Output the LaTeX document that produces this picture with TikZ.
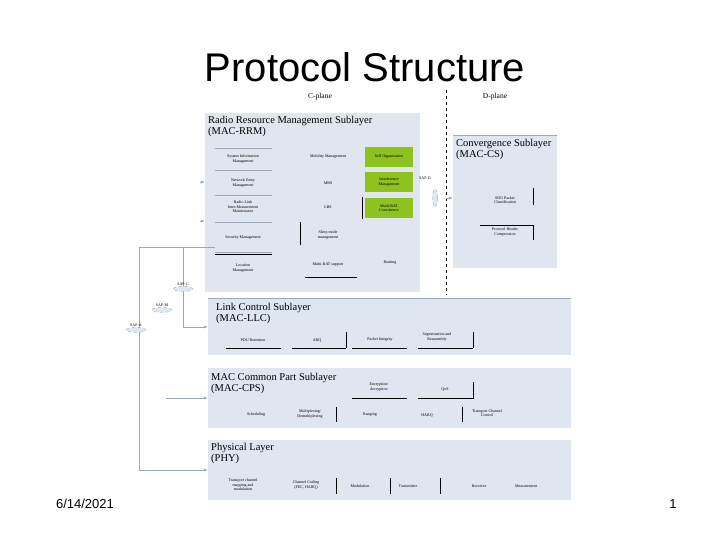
\documentclass[tikz,border=0pt]{standalone}
\usepackage{fontspec}
\setmainfont{Liberation Serif}
\newfontfamily\titlefont{Liberation Sans}
\usetikzlibrary{positioning,arrows.meta,shapes.geometric}
\definecolor{layerblue}{HTML}{DFE6EF}
\definecolor{funcgreen}{HTML}{8DC21F}
\definecolor{sapline}{HTML}{9AA8B8}
\begin{document}
\begin{tikzpicture}[x=1pt,y=-1pt]
	\tikzstyle{layer} = [fill=layerblue, draw=none]
	\tikzstyle{ltitle} = [anchor=north west, align=left, font=\fontsize{10.5}{11}\selectfont, inner sep=0pt]
	\tikzstyle{func} = [align=center, font=\fontsize{4}{4.5}\selectfont, inner sep=1pt]
	\tikzstyle{green} = [func, fill=funcgreen, minimum width=48pt, minimum height=20pt]
	\tikzstyle{sap} = [ellipse, draw=sapline, dashed, fill=layerblue, minimum width=20pt, minimum height=5pt, inner sep=0pt]
	\tikzstyle{link} = [draw=sapline, line width=0.8]
	\tikzstyle{arr} = [link, -{Latex[length=4pt]}]
	\useasboundingbox (0,0) rectangle (720,540);
	\fill[white] (0,0) rectangle (720,540);
	% title and footer
	\node[font=\titlefont\fontsize{40}{42}\selectfont] (title) at (365,67) {Protocol Structure};
	\node[font=\titlefont\fontsize{13}{15}\selectfont] (date) at (85,504) {6/14/2021};
	\node[font=\titlefont\fontsize{13}{15}\selectfont] (page) at (673,504) {1};
	\node[font=\fontsize{7.5}{8}\selectfont] (cplane) at (320,97) {C-plane};
	\node[font=\fontsize{7.5}{8}\selectfont] (dplane) at (495,97) {D-plane};
	\coordinate (dtop) at (446,90);
	\coordinate (dbot) at (446,295);
	\draw[dashed, line width=0.8] (dtop) -- (dbot);
	% layer boxes
	\fill[layer] (205,113) rectangle (420,292);
	\fill[layer] (453,135) rectangle (557,268);
	\fill[layer] (208,298) rectangle (571,355);
	\fill[layer] (208,368) rectangle (571,428);
	\fill[layer] (208,440) rectangle (571,500);
	\draw[sapline] (453,135) -- (557,135);
	\draw[sapline] (208,298) -- (571,298);
	\node[ltitle] (rrm) at (208,116) {Radio Resource Management Sublayer\\(MAC-RRM)};
	\node[ltitle] (cs) at (456,139) {Convergence Sublayer\\(MAC-CS)};
	\node[ltitle] (llc) at (216,303) {Link Control Sublayer\\(MAC-LLC)};
	\node[ltitle] (cps) at (211,373) {MAC Common Part Sublayer\\(MAC-CPS)};
	\node[ltitle] (phy) at (211,443) {Physical Layer\\(PHY)};
	% RRM functions
	\node[func] (sim) at (243,159) {System Information\\Management};
	\node[func] (nem) at (243,183) {Network Entry\\Management};
	\node[func] (rlm) at (243,207) {Radio Link\\Inter-Measurement\\Maintenance};
	\node[func] (secm) at (243,238) {Security Management};
	\node[func] (locm) at (243,268) {Location\\Management};
	\node[func] (mobm) at (328,157) {Mobility Management};
	\node[func] (mbs) at (328,183) {MBS};
	\node[func] (lbs) at (328,207) {LBS};
	\node[func] (sleep) at (328,235) {Sleep mode\\management};
	\node[func] (mrat) at (328,265) {Multi-RAT support};
	\node[func] (route) at (390,263) {Routing};
	\node[green] (selforg) at (389,157) {Self Organization};
	\node[green] (intm) at (389,182) {Interference\\Management};
	\node[green] (mratc) at (389,208) {Multi-RAT\\Coexistence};
	\foreach \y in {148,170,195,222,252} \draw[sapline] (215,\y) -- (272,\y);
	\draw (215,254) -- (272,254);
	\draw (300,222) -- (300,245);
	\draw (362,197) -- (362,219);
	\draw (305,277) -- (357,277);
	% CS functions
	\node[func] (sdu) at (505,200) {SDU Packet\\Classification};
	\node[func] (phc) at (505,232) {Protocol Header\\Compression};
	\draw (533,188) -- (533,205);
	\draw (480,225) -- (533,225) -- (533,240);
	% LLC functions
	\node[func] (pdu) at (253,340) {PDU Retention};
	\node[func] (arq) at (317,340) {ARQ};
	\node[func] (pint) at (380,340) {Packet Integrity};
	\node[func] (sar) at (437,337) {Segmentation and\\Reassembly};
	\foreach \a/\b in {226/281,292/346,352/407,418/473} \draw (\a,348) -- (\b,348);
	\draw (346,332) -- (346,348);
	\draw (473,332) -- (473,348);
	% CPS functions
	\node[func] (enc) at (379,387) {Encryption/\\decryption};
	\node[func] (qos) at (445,389) {QoS};
	\draw (352,398) -- (407,398);
	\draw (418,398) -- (473,398) -- (473,382);
	\node[func] (sched) at (256,415) {Scheduling};
	\node[func] (mux) at (310,414) {Multiplexing/\\Demultiplexing};
	\node[func] (rang) at (370,415) {Ranging};
	\node[func] (harq) at (427,415) {HARQ};
	\node[func] (tcc) at (487,413) {Transport Channel\\Control};
	\draw (336,407) -- (336,422);
	\draw (462,407) -- (462,422);
	% PHY functions
	\node[func] (tcm) at (243,485) {Transport channel\\mapping and\\modulation};
	\node[func] (fec) at (306,485) {Channel Coding\\(FEC, HARQ)};
	\node[func] (mod) at (360,486) {Modulation};
	\node[func] (tx) at (408,486) {Transmitter};
	\node[func] (rx) at (479,486) {Receiver};
	\node[func] (meas) at (526,486) {Measurement};
	\draw (336,478) -- (336,494);
	\draw (390,478) -- (390,494);
	\draw (440,478) -- (440,494);
	% SAPs and links
	\coordinate (ja) at (139,247);
	\coordinate (jc) at (183,247);
	\coordinate (rrmin) at (215,247);
	\coordinate (aend) at (139,470);
	\coordinate (cend) at (183,327);
	\coordinate (mstart) at (166,398);
	\coordinate (llcin) at (208,327);
	\coordinate (cpsin) at (208,398);
	\coordinate (phyin) at (208,470);
	\coordinate (rrma) at (200,182);
	\coordinate (rrmb) at (200,221);
	\coordinate (rrmai) at (205,182);
	\coordinate (rrmbi) at (205,221);
	\draw[link] (ja) -- (rrmin);
	\draw[link] (ja) -- (aend);
	\draw[link] (jc) -- (cend);
	\draw[arr] (cend) -- (llcin);
	\draw[arr] (mstart) -- (cpsin);
	\draw[arr] (aend) -- (phyin);
	\draw[arr] (rrma) -- (rrmai);
	\draw[arr] (rrmb) -- (rrmbi);
	\node[sap] (sapc) at (183,289) {};
	\node[sap] (sapm) at (162,310) {};
	\node[sap] (sapa) at (136,330) {};
	\node[sap, minimum width=5pt, minimum height=18pt] (sapd) at (435,198) {};
	\node[func, above=0pt of sapc] (sapcl) {SAP-C};
	\node[func, above=0pt of sapm] (sapml) {SAP-M};
	\node[func, above=0pt of sapa] (sapal) {SAP-A};
	\node[func] (sapdl) at (425,178) {SAP-D};
	\coordinate (dlink) at (446,198);
	\coordinate (csin) at (453,198);
	\draw[arr] (dlink) -- (csin);
\end{tikzpicture}
\end{document}
